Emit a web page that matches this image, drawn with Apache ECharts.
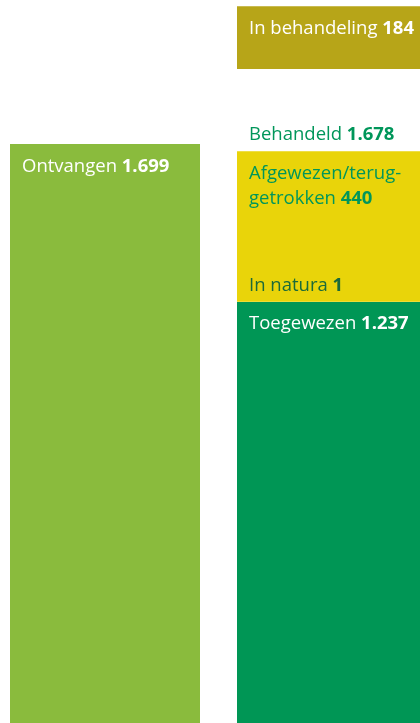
<!DOCTYPE html>
<html><head><meta charset="utf-8">
<script src="https://cdn.jsdelivr.net/npm/echarts@6/dist/echarts.min.js"></script>
<style>html,body{margin:0;padding:0;background:#fff}#c{width:420px;height:723px}</style>
</head><body><div id="c"></div>
<script>
const categories = ['Ontvangen', 'Behandeld'];
const ontvangen = [1699, '-'];
const toegewezen = ['-', 1237];
const inNatura = ['-', 1];
const afgewezen = ['-', 440];
const gap = ['-', 240];
const inBehandeling = ['-', 184];

function nl(v){ return String(v).replace(/\B(?=(\d{3})+(?!\d))/g, '.'); }
const FONT = 'Open Sans';
const rich = (color) => ({
  n: {fontFamily: FONT, fontSize: 18.5, color: color, fontWeight: 400, lineHeight: 25},
  b: {fontFamily: FONT, fontSize: 18.5, color: color, fontWeight: 700, lineHeight: 25}
});
const behandeld = toegewezen[1] + inNatura[1] + afgewezen[1];

const chart = echarts.init(document.getElementById('c'), null, {renderer: 'canvas'});
chart.setOption({
  animation: false,
  grid: {left: -8.5, width: 454, top: 0, height: 725, outerBoundsMode: 'none'},
  xAxis: {type: 'category', data: categories, show: false},
  yAxis: {type: 'value', min: 0, max: 2120, show: false},
  series: [
    {name: 'Ontvangen', type: 'bar', stack: 's', barWidth: 190, data: ontvangen,
     itemStyle: {color: '#8abb3d'},
     label: {show: true, position: [12, 10], rich: rich('#ffffff'),
       formatter: p => '{n|Ontvangen }{b|' + nl(p.value) + '}'}},
    {name: 'Toegewezen', type: 'bar', stack: 's', barWidth: 190, data: toegewezen,
     itemStyle: {color: '#009655'},
     label: {show: true, position: [12, 9], rich: rich('#ffffff'),
       formatter: p => '{n|Toegewezen }{b|' + nl(p.value) + '}'}},
    {name: 'In natura', type: 'bar', stack: 's', barWidth: 190, data: inNatura,
     itemStyle: {color: '#e9d40a'},
     label: {show: true, position: [12, -28], rich: rich('#1b6a3a'),
       formatter: p => '{n|In natura }{b|' + nl(p.value) + '}'}},
    {name: 'Afgewezen', type: 'bar', stack: 's', barWidth: 190, data: afgewezen,
     itemStyle: {color: '#e9d40a'},
     label: {show: true, position: [12, 10], rich: rich('#00965a'),
       formatter: p => '{n|Afgewezen/terug-}\n{n|getrokken }{b|' + nl(p.value) + '}'}},
    {name: 'gap', type: 'bar', stack: 's', barWidth: 190, data: gap,
     itemStyle: {color: 'transparent'},
     label: {show: true, position: 'insideBottomLeft', distance: 0, offset: [12, -4], rich: rich('#00965a'),
       formatter: () => '{n|Behandeld }{b|' + nl(behandeld) + '}'}},
    {name: 'In behandeling', type: 'bar', stack: 's', barWidth: 190, data: inBehandeling,
     itemStyle: {color: '#b7a518'},
     label: {show: true, position: [12, 10], rich: rich('#ffffff'),
       formatter: p => '{n|In behandeling }{b|' + nl(p.value) + '}'}}
  ]
});
</script></body></html>
